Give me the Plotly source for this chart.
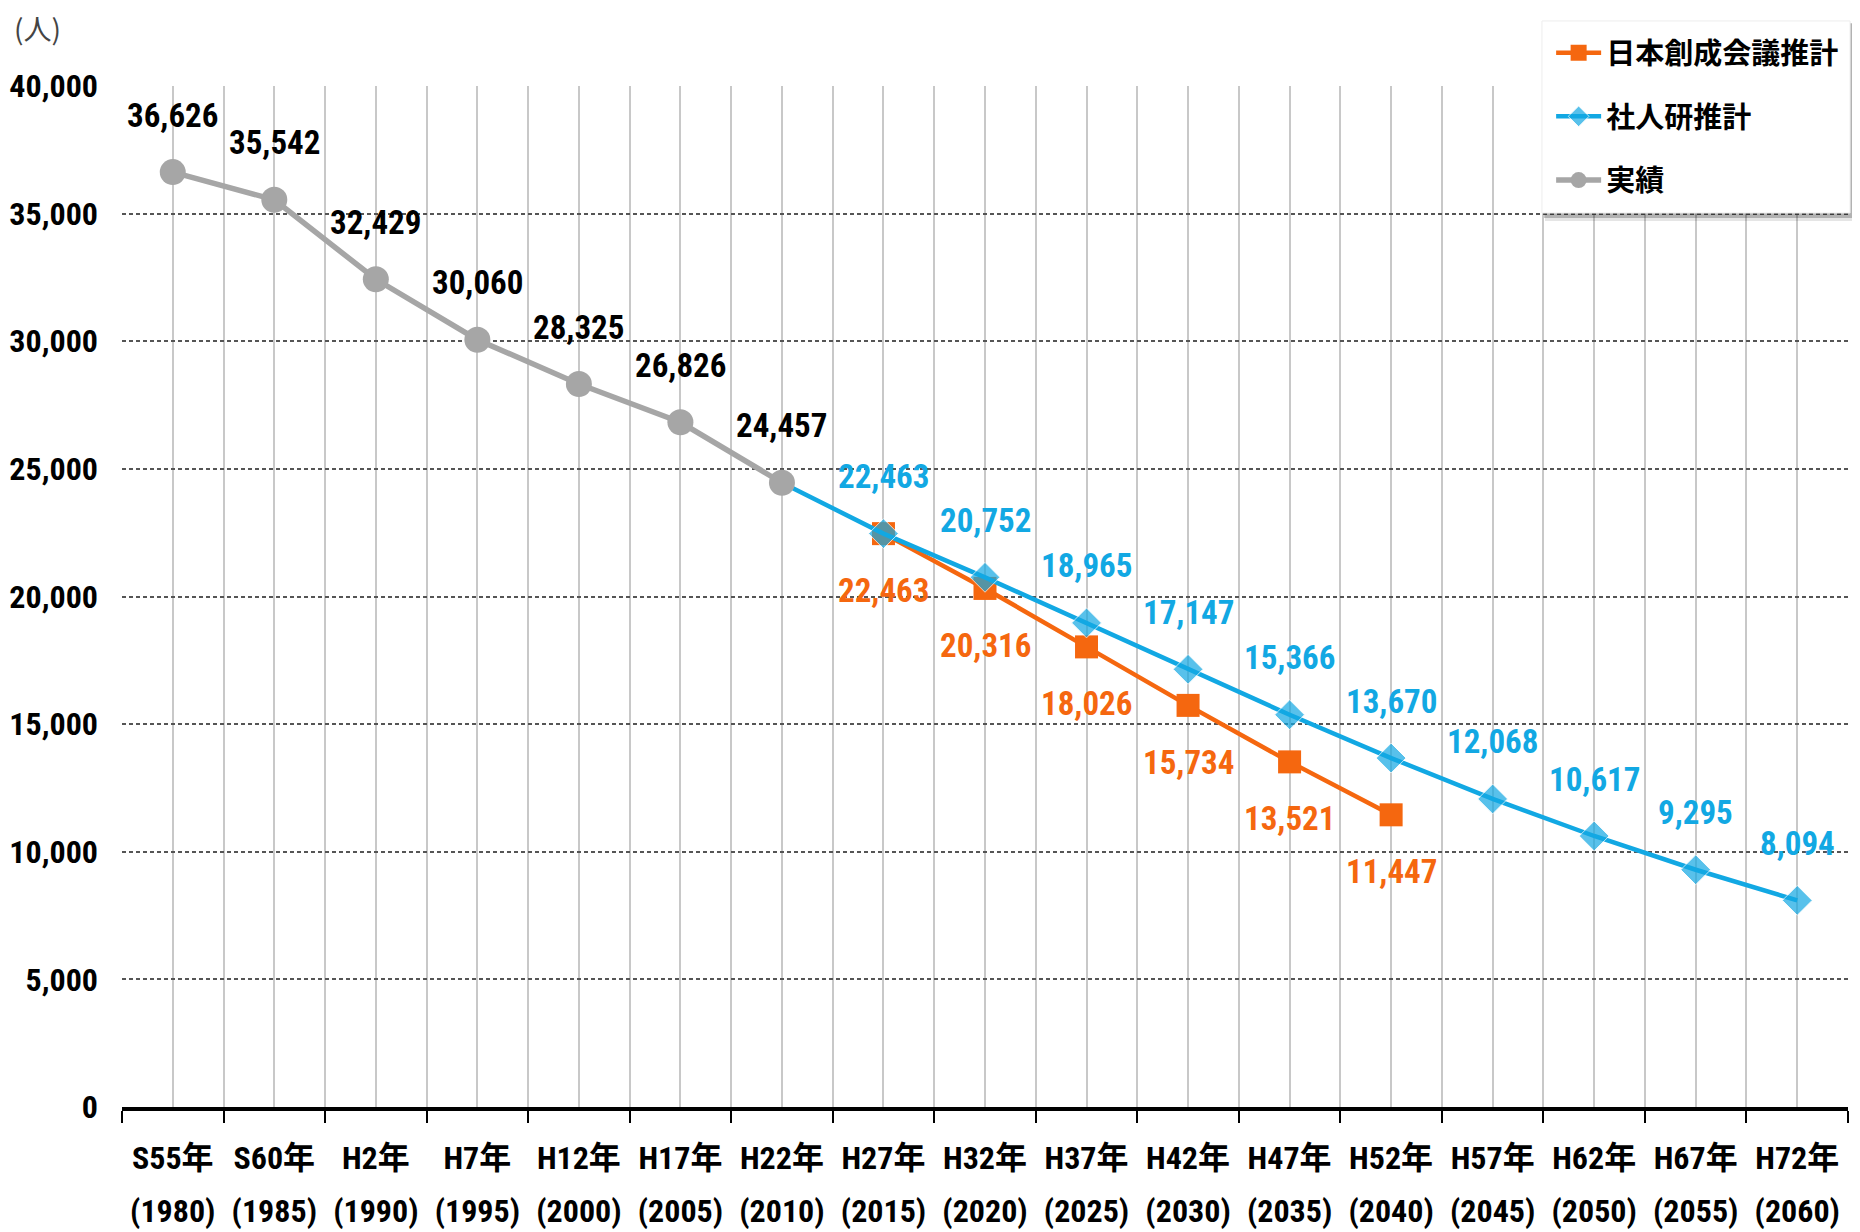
import plotly.graph_objects as go

# ---- data ----
years = [1980, 1985, 1990, 1995, 2000, 2005, 2010, 2015, 2020, 2025, 2030,
         2035, 2040, 2045, 2050, 2055, 2060]
era_labels = ["S55年", "S60年", "H2年", "H7年", "H12年", "H17年", "H22年", "H27年",
              "H32年", "H37年", "H42年", "H47年", "H52年", "H57年", "H62年", "H67年", "H72年"]

actual_years = [1980, 1985, 1990, 1995, 2000, 2005, 2010]
actual_values = [36626, 35542, 32429, 30060, 28325, 26826, 24457]

nissou_years = [2015, 2020, 2025, 2030, 2035, 2040]
nissou_values = [22463, 20316, 18026, 15734, 13521, 11447]

ipss_years = [2010, 2015, 2020, 2025, 2030, 2035, 2040, 2045, 2050, 2055, 2060]
ipss_values = [24457, 22463, 20752, 18965, 17147, 15366, 13670, 12068, 10617, 9295, 8094]

# ---- style ----
ORANGE = "#F5670F"
BLUE = "#12A8E3"
GRAY = "#A6A6A6"
NARROW = "Roboto Condensed, Liberation Sans Narrow, DejaVu Sans Condensed, Noto Sans CJK JP, sans-serif"
CJK = "Noto Sans CJK JP, sans-serif"


def idx(yrs):
    return [years.index(y) for y in yrs]


n = len(years)
fig = go.Figure()

fig.add_trace(go.Scatter(
    x=idx(nissou_years), y=nissou_values, name="日本創成会議推計",
    mode="lines+markers", legendgroup="a",
    line=dict(color=ORANGE, width=4.5),
    marker=dict(symbol="square", size=23, color=ORANGE),
))
fig.add_trace(go.Scatter(
    x=idx(ipss_years), y=ipss_values, name="社人研推計",
    mode="lines+markers", legendgroup="b",
    line=dict(color=BLUE, width=4.5),
    marker=dict(symbol="diamond", size=[0] + [23] * (len(ipss_values) - 1), color=BLUE),
))
fig.add_trace(go.Scatter(
    x=idx(actual_years), y=actual_values, name="実績",
    mode="lines+markers", legendgroup="c",
    line=dict(color=GRAY, width=5.5),
    marker=dict(symbol="circle", size=26, color=GRAY),
))
# carrier for the second row of x tick labels (western years)
fig.add_trace(go.Scatter(
    x=list(range(n)), y=[None] * n, xaxis="x2", showlegend=False,
    hoverinfo="skip", mode="markers",
))

annotations = []
for yrs, vals, color, shift, skip_first in [
    (actual_years, actual_values, "#000000", 57, False),
    (ipss_years, ipss_values, BLUE, 57, True),
    (nissou_years, nissou_values, ORANGE, -57, False),
]:
    for k, (yr, v) in enumerate(zip(yrs, vals)):
        if skip_first and k == 0:
            continue
        annotations.append(dict(
            x=years.index(yr), y=v, xref="x", yref="y", text=f"{v:,}",
            showarrow=False, yshift=shift,
            font=dict(family=NARROW, size=33, color=color, weight="bold"),
        ))

annotations.append(dict(
    x=-0.049, y=1.057, xref="paper", yref="paper", text="(人)", showarrow=False,
    xanchor="center", yanchor="middle",
    font=dict(family=CJK, size=28, color="#444444"),
))

# legend frame with soft drop shadow
LX0, LX1, LY0, LY1 = 0.8227, 1.0012, 0.8756, 1.0637
px_x, px_y = 1 / 1726, 1 / 1021
shapes = [
    dict(type="rect", xref="paper", yref="paper", layer="above",
         x0=LX0 + 3 * px_x, x1=LX1 + 8 * px_x, y0=LY0 - 8 * px_y, y1=LY1 - 3 * px_y,
         fillcolor="rgba(0,0,0,0.10)", line=dict(width=0)),
    dict(type="rect", xref="paper", yref="paper", layer="above",
         x0=LX0 + 2 * px_x, x1=LX1 + 5 * px_x, y0=LY0 - 5 * px_y, y1=LY1 - 2 * px_y,
         fillcolor="rgba(0,0,0,0.22)", line=dict(width=0)),
    dict(type="rect", xref="paper", yref="paper", layer="above",
         x0=LX0, x1=LX1, y0=LY0, y1=LY1,
         fillcolor="white", line=dict(color="#EDEDED", width=1)),
]

tick_font = dict(family=NARROW, size=32, color="#000000", weight="bold")
common_x = dict(
    range=[-0.5, n - 0.5], tickmode="array", tickvals=list(range(n)),
    ticks="", automargin=False, tickfont=tick_font, fixedrange=True, zeroline=False,
)

fig.update_layout(
    width=1852, height=1224,
    margin=dict(l=114, r=12, t=78, b=125, autoexpand=False),
    paper_bgcolor="white", plot_bgcolor="white",
    annotations=annotations, shapes=shapes,
    showlegend=True,
    legend=dict(
        x=0.828, y=1.0575, xanchor="left", yanchor="top",
        font=dict(family=CJK, size=29, color="#000000", weight="bold"),
        bgcolor="rgba(0,0,0,0)", borderwidth=0,
        tracegroupgap=23, traceorder="grouped", itemwidth=45,
    ),
    xaxis=dict(
        **common_x,
        ticktext=era_labels, ticklabelstandoff=20,
        showgrid=True, gridcolor="#C8C8C8", gridwidth=1.5,
        minor=dict(tick0=-0.5, dtick=1, ticks="outside", ticklen=12, tickwidth=2,
                   tickcolor="#000000", showgrid=True, gridcolor="#C8C8C8", gridwidth=1.5),
        showline=True, linecolor="#000000", linewidth=4,
    ),
    xaxis2=dict(
        **common_x,
        overlaying="x", side="bottom", anchor="y",
        ticktext=[f"({y})" for y in years], ticklabelstandoff=82,
        showgrid=False, showline=False,
    ),
    yaxis=dict(
        range=[0, 40000], dtick=5000, tickformat=",d", automargin=False,
        tickfont=dict(family=NARROW, size=32, color="#000000", weight="bold"),
        ticklabelstandoff=23,
        showgrid=True, gridcolor="#555555", gridwidth=2, griddash="4px,3px",
        zeroline=False, showline=False, ticks="",
    ),
)

fig.write_html("out.html")
